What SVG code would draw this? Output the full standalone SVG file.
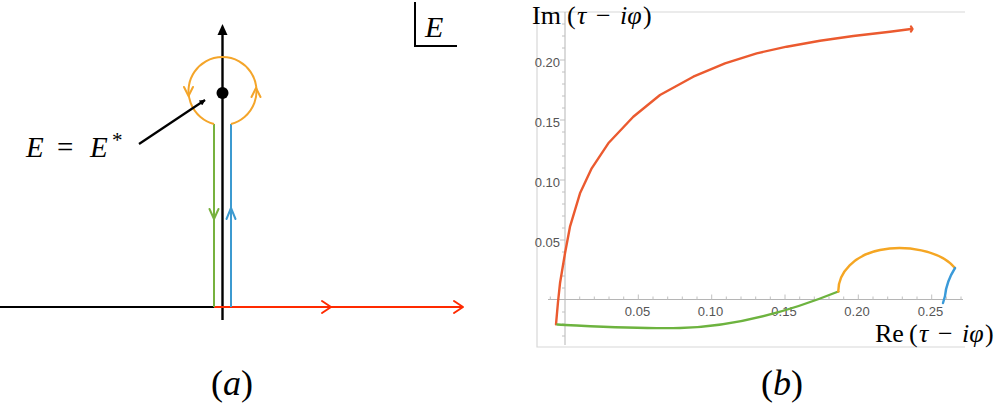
<svg xmlns="http://www.w3.org/2000/svg" width="996" height="415" viewBox="0 0 996 415">
<style>
.math{font-family:"Liberation Serif","DejaVu Serif",serif;fill:#000}
.it{font-style:italic}
.tick{font-family:"Liberation Sans","DejaVu Sans",sans-serif;font-size:13px;fill:#555}
.chev{fill:none;stroke-width:2;stroke-linecap:round;stroke-linejoin:round}
.frame{stroke:#d8d8d8;stroke-width:1.2;fill:none}
.ax{stroke:#b5b5b5;stroke-width:1;fill:none}
.tk{stroke:#c0c0c0;stroke-width:1}
.curve{fill:none;stroke-width:2.4;stroke-linecap:round;stroke-linejoin:round}
</style>
<defs>
<marker id="ah" viewBox="0 0 10 10" refX="9" refY="5" markerWidth="6" markerHeight="6" orient="auto" markerUnits="userSpaceOnUse">
<path d="M0,0 L10,5 L0,10 z" fill="#000"/>
</marker>
</defs>
<rect width="996" height="415" fill="#fff"/>

<g id="panel-a">
<g id="axes-a">
<line x1="0" y1="307" x2="214" y2="307" stroke="#000" stroke-width="2"/>
<line x1="222.5" y1="320" x2="222.5" y2="32" stroke="#000" stroke-width="2.4"/>
<path d="M222.5,24 L217.5,35 L227.5,35 z" fill="#000"/>
</g>
<g id="contour">
<line x1="214" y1="307" x2="463" y2="307" stroke="#ff2a00" stroke-width="2"/>
<path class="chev" stroke="#ff2a00" d="M322,301 L331,307 L322,313"/>
<path class="chev" stroke="#ff2a00" d="M454,301 L463,307 L454,313"/>
<line x1="214" y1="124" x2="214" y2="307" stroke="#77b13d" stroke-width="2"/>
<path class="chev" stroke="#77b13d" d="M209.5,209 L214,219 L218.5,209"/>
<line x1="231" y1="124" x2="231" y2="307" stroke="#3c9ad0" stroke-width="2"/>
<path class="chev" stroke="#3c9ad0" d="M226.5,219 L231,208 L235.5,219"/>
<path d="M214,124 A34,34 0 1 1 231,124" fill="none" stroke="#f4a52a" stroke-width="2"/>
<path class="chev" stroke="#f4a52a" d="M184,87 L188.5,96 L193,87"/>
<path class="chev" stroke="#f4a52a" d="M251.5,97 L256,88 L260.5,97"/>
</g>
<g id="point">
<circle cx="222.5" cy="93" r="6" fill="#000"/>
<line x1="139" y1="144" x2="205" y2="100" stroke="#000" stroke-width="2.2" marker-end="url(#ah)"/>
<text class="math" y="157" font-size="29"><tspan class="it" x="26">E</tspan><tspan x="57">=</tspan><tspan class="it" x="90">E</tspan><tspan font-size="21" x="112" dy="-10">*</tspan></text>
</g>
<g id="plane-label">
<path d="M415,2 L415,46 L457,46" fill="none" stroke="#000" stroke-width="2"/>
<text class="math it" x="425" y="37" font-size="30">E</text>
</g>
<text class="math" x="232" y="395" font-size="36" text-anchor="middle">(<tspan class="it">a</tspan>)</text>
</g>

<g id="panel-b">
<g id="frame">
<path class="frame" d="M537,12 L965,12 M537,12 L537,347 L965,347"/>
</g>
<g id="axes-b">
<line class="ax" x1="565" y1="12" x2="565" y2="345"/>
<line class="ax" x1="548" y1="299.5" x2="963" y2="299.5"/>
<path class="tk" d="M560,240 H565 M560,180 H565 M560,120 H565 M560,60 H565 M562,288 H565 M562,276 H565 M562,264 H565 M562,252 H565 M562,228 H565 M562,216 H565 M562,204 H565 M562,192 H565 M562,168 H565 M562,156 H565 M562,144 H565 M562,132 H565 M562,108 H565 M562,96 H565 M562,84 H565 M562,72 H565 M562,48 H565 M562,36 H565 M562,24 H565 M562,312 H565 M562,324 H565 M562,336 H565"/>
<path class="tk" d="M638.3,299.5 V294.5 M711.7,299.5 V294.5 M785,299.5 V294.5 M858.3,299.5 V294.5 M931.7,299.5 V294.5 M579.7,299.5 V296.5 M594.3,299.5 V296.5 M609,299.5 V296.5 M623.7,299.5 V296.5 M653,299.5 V296.5 M667.7,299.5 V296.5 M682.3,299.5 V296.5 M697,299.5 V296.5 M726.3,299.5 V296.5 M741,299.5 V296.5 M755.7,299.5 V296.5 M770.3,299.5 V296.5 M799.7,299.5 V296.5 M814.3,299.5 V296.5 M829,299.5 V296.5 M843.7,299.5 V296.5 M873,299.5 V296.5 M887.7,299.5 V296.5 M902.3,299.5 V296.5 M917,299.5 V296.5 M946.3,299.5 V296.5 M961,299.5 V296.5 M550.3,299.5 V296.5"/>
<text class="tick" x="560" y="246.5" text-anchor="end">0.05</text>
<text class="tick" x="560" y="186.5" text-anchor="end">0.10</text>
<text class="tick" x="560" y="126.5" text-anchor="end">0.15</text>
<text class="tick" x="560" y="66.5" text-anchor="end">0.20</text>
<text class="tick" x="637.5" y="316" text-anchor="middle">0.05</text>
<text class="tick" x="710.5" y="316" text-anchor="middle">0.10</text>
<text class="tick" x="784" y="316" text-anchor="middle">0.15</text>
<text class="tick" x="857" y="316" text-anchor="middle">0.20</text>
<text class="tick" x="930.5" y="316" text-anchor="middle">0.25</text>
<text class="math" y="24" font-size="26"><tspan x="532">Im</tspan><tspan x="567">(</tspan><tspan class="it" x="577">τ</tspan><tspan x="596">−</tspan><tspan class="it" x="620">iφ</tspan><tspan x="643">)</tspan></text>
<text class="math" y="342" font-size="26"><tspan x="875">Re</tspan><tspan x="909">(</tspan><tspan class="it" x="919">τ</tspan><tspan x="938">−</tspan><tspan class="it" x="962">iφ</tspan><tspan x="985">)</tspan></text>
</g>
<g id="curves">
<path class="curve" stroke="#eb5a2f" d="M556,324.3 L558,302 L560,283.3 L565,253.3 L570,226.7 L580,193.3 L591.7,168.3 L608.3,143.3 L633.3,116.7 L660,95 L693.3,76.7 L725,63.3 L756.7,53.3 L786.7,46.7 L820,40.7 L853.3,36 L890,31.7 L911,29"/>
<path class="curve" stroke="#eb5a2f" stroke-width="1.4" d="M911,26.5 L912.5,29 L911,31.5"/>
<path class="curve" stroke="#6db33f" d="M557.3,324.5 C600,326.5 640,329 680,328 C730,327 780,315 838.3,291.5"/>
<path class="curve" stroke="#f5a623" d="M838.3,291.5 C838,272 855,255 880,250 C905,245 940,250 955,268"/>
<path class="curve" stroke="#3a9ad9" d="M955,268 C950,276 946,285 945,296 L943,303"/>
</g>
</g>
<text class="math" x="782" y="395" font-size="36" text-anchor="middle">(<tspan class="it">b</tspan>)</text>
</svg>
